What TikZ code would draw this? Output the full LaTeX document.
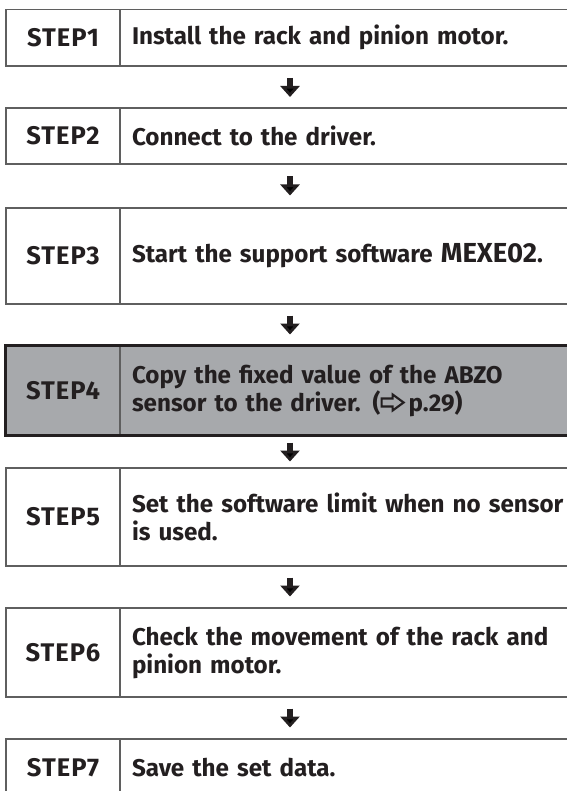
\documentclass[tikz,border=0pt]{standalone}
\usepackage{fontspec}
\setmainfont{Fira Sans}
\usetikzlibrary{arrows.meta}
\definecolor{ink}{RGB}{35,31,32}
\definecolor{frame}{RGB}{95,95,95}
\definecolor{hl}{RGB}{167,169,172}
\newcommand{\refarrow}{\tikz[baseline=0pt, x=1pt, y=1pt]\draw[ink, line width=2.1pt, line join=miter]
  (1,4.5) -- (12,4.5) -- (12,0.5) -- (23,8.5) -- (12,16.5) -- (12,12.5) -- (1,12.5) -- cycle;}
\begin{document}
\begin{tikzpicture}[x=1pt,y=-1pt,
  font=\bfseries\fontsize{24.2}{28}\selectfont, text=ink,
  lab/.style={draw=frame, line width=1.3pt, minimum width=114pt, inner sep=0pt,
    font=\bfseries\fontsize{25.5}{28}\selectfont\addfontfeatures{LetterSpace=4}},
  desc/.style={draw=frame, line width=1.3pt, minimum width=460pt, text width=436pt,
    inner xsep=12pt, inner ysep=0pt, align=left},
  hilite/.style={fill=hl},
  outline/.style={draw=ink, line width=2.4pt},
  flow/.style={line width=6.5pt, draw=ink, -{Triangle[width=19pt,length=11pt]}}]
\useasboundingbox (0,0) rectangle (566,791);
% row 1
\node[lab, minimum height=56.5pt] (l1) at (63,37.75) {STEP1};
\node[desc, minimum height=56.5pt] (r1) at (350,37.75) {Install the rack and pinion motor.};
% row 2
\node[lab, minimum height=56pt] (l2) at (63,136) {STEP2};
\node[desc, minimum height=56pt] (r2) at (350,136) {Connect to the driver.};
% row 3
\node[lab, minimum height=96pt] (l3) at (63,256) {STEP3};
\node[desc, minimum height=96pt] (r3) at (350,256) {Start the support software {\fontsize{27.5}{28}\selectfont MEXE02}.};
% row 4
\node[lab, hilite, minimum height=89pt] (l4) at (63,390.5) {STEP4};
\node[desc, hilite, minimum height=89pt] (r4) at (350,390.5) {Copy the fixed value of the ABZO\\sensor to the driver. (\refarrow\,p.29)};
\draw[outline] (l4.north west) rectangle (r4.south east);
% row 5
\node[lab, minimum height=98pt] (l5) at (63,517) {STEP5};
\node[desc, minimum height=98pt] (r5) at (350,517) {Set the software limit when no sensor\\is used.};
% row 6
\node[lab, minimum height=89pt] (l6) at (63,652.5) {STEP6};
\node[desc, minimum height=89pt] (r6) at (350,652.5) {Check the movement of the rack and\\pinion motor.};
% row 7
\node[lab, minimum height=57pt] (l7) at (63,767.5) {STEP7};
\node[desc, minimum height=57pt] (r7) at (350,767.5) {Save the set data.};
% arrows
\coordinate (a1s) at (290,78); \coordinate (a1e) at (290,97);
\coordinate (a2s) at (290,176.5); \coordinate (a2e) at (290,195.5);
\coordinate (a3s) at (290,315.5); \coordinate (a3e) at (290,334.5);
\coordinate (a4s) at (290,442.5); \coordinate (a4e) at (290,461.5);
\coordinate (a5s) at (290,577.5); \coordinate (a5e) at (290,596.5);
\coordinate (a6s) at (290,708.5); \coordinate (a6e) at (290,727.5);
\draw[flow] (a1s) -- (a1e);
\draw[flow] (a2s) -- (a2e);
\draw[flow] (a3s) -- (a3e);
\draw[flow] (a4s) -- (a4e);
\draw[flow] (a5s) -- (a5e);
\draw[flow] (a6s) -- (a6e);
\end{tikzpicture}
\end{document}
